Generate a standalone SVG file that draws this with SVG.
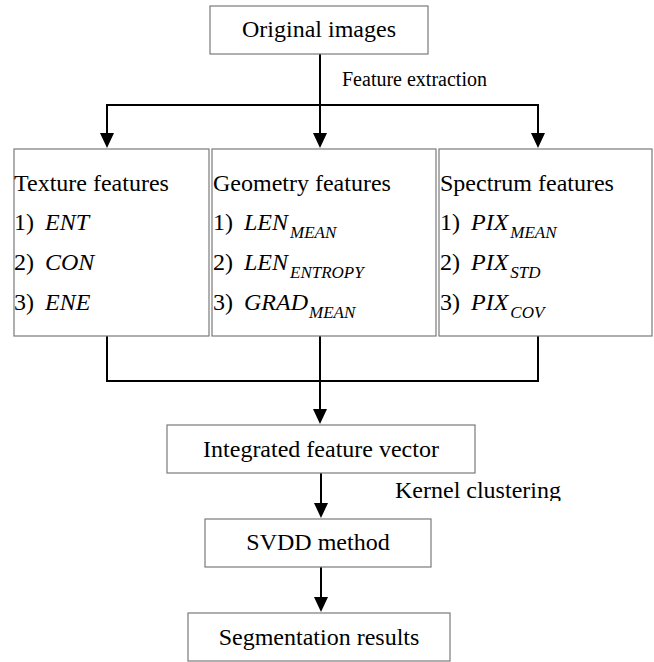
<svg xmlns="http://www.w3.org/2000/svg" width="654" height="662" viewBox="0 0 654 662">
<style>
.box{fill:#fff;stroke:#7a7a7a;stroke-width:1.2}
.i{font-style:italic}
.s{font-size:17px;font-style:italic}
.c{text-anchor:middle}
.ln{fill:none;stroke:#000;stroke-width:2}
.ah{fill:#000}
</style>
<defs>
<clipPath id="kc"><rect x="380" y="475" width="274" height="26"/></clipPath>
</defs>
<rect width="654" height="662" fill="#fff"/>
<g id="connectors">
<line class="ln" x1="320" y1="54" x2="320" y2="134"/>
<polyline class="ln" points="107,134 107,105 538,105 538,134"/>
<path class="ah" d="M100,133 L114,133 L107,148 Z M531,133 L545,133 L538,148 Z M313,133 L327,133 L320,148 Z"/>
<polyline class="ln" points="107,336 107,381 538,381 538,336"/>
<line class="ln" x1="320" y1="336" x2="320" y2="410"/>
<path class="ah" d="M313,409 L327,409 L320,424 Z"/>
<line class="ln" x1="321" y1="473" x2="321" y2="504"/>
<path class="ah" d="M314,503 L328,503 L321,518 Z"/>
<line class="ln" x1="321" y1="567" x2="321" y2="598"/>
<path class="ah" d="M314,597 L328,597 L321,612 Z"/>
<text x="342" y="86" font-family="Liberation Serif" font-size="20">Feature extraction</text>
<text x="395" y="498" font-family="Liberation Serif" font-size="24" clip-path="url(#kc)">Kernel clustering</text>
</g>
<g id="original">
<rect class="box" x="210" y="6" width="218" height="48"/>
<text class="c" x="319" y="37" font-family="Liberation Serif" font-size="24">Original images</text>
</g>
<g id="texture">
<rect class="box" x="14" y="149" width="195" height="187"/>
<text x="14" y="191" font-family="Liberation Serif" font-size="24">Texture features</text>
<text x="14" y="230" font-family="Liberation Serif" font-size="24">1) <tspan class="i" dx="5">ENT</tspan></text>
<text x="14" y="270" font-family="Liberation Serif" font-size="24">2) <tspan class="i" dx="5">CON</tspan></text>
<text x="14" y="310" font-family="Liberation Serif" font-size="24">3) <tspan class="i" dx="5">ENE</tspan></text>
</g>
<g id="geometry">
<rect class="box" x="212" y="149" width="224" height="187"/>
<text x="213" y="191" font-family="Liberation Serif" font-size="24">Geometry features</text>
<text x="213" y="230" font-family="Liberation Serif" font-size="24">1) <tspan class="i" dx="5">LEN</tspan><tspan class="s" dx="2" dy="8">MEAN</tspan></text>
<text x="213" y="270" font-family="Liberation Serif" font-size="24">2) <tspan class="i" dx="5">LEN</tspan><tspan class="s" dx="2" dy="8">ENTROPY</tspan></text>
<text x="213" y="310" font-family="Liberation Serif" font-size="24">3) <tspan class="i" dx="5">GRAD</tspan><tspan class="s" dx="1" dy="8">MEAN</tspan></text>
</g>
<g id="spectrum">
<rect class="box" x="439" y="149" width="213" height="187"/>
<text x="440" y="191" font-family="Liberation Serif" font-size="24">Spectrum features</text>
<text x="440" y="230" font-family="Liberation Serif" font-size="24">1) <tspan class="i" dx="5">PIX</tspan><tspan class="s" dx="2" dy="8">MEAN</tspan></text>
<text x="440" y="270" font-family="Liberation Serif" font-size="24">2) <tspan class="i" dx="5">PIX</tspan><tspan class="s" dx="2" dy="8">STD</tspan></text>
<text x="440" y="310" font-family="Liberation Serif" font-size="24">3) <tspan class="i" dx="5">PIX</tspan><tspan class="s" dx="2" dy="8">COV</tspan></text>
</g>
<g id="integrated">
<rect class="box" x="167" y="425" width="308" height="48"/>
<text class="c" x="321" y="457" font-family="Liberation Serif" font-size="24">Integrated feature vector</text>
</g>
<g id="svdd">
<rect class="box" x="205" y="519" width="226" height="48"/>
<text class="c" x="318" y="550" font-family="Liberation Serif" font-size="24">SVDD method</text>
</g>
<g id="segmentation">
<rect class="box" x="188" y="613" width="262" height="48"/>
<text class="c" x="319" y="645" font-family="Liberation Serif" font-size="24">Segmentation results</text>
</g>
</svg>
